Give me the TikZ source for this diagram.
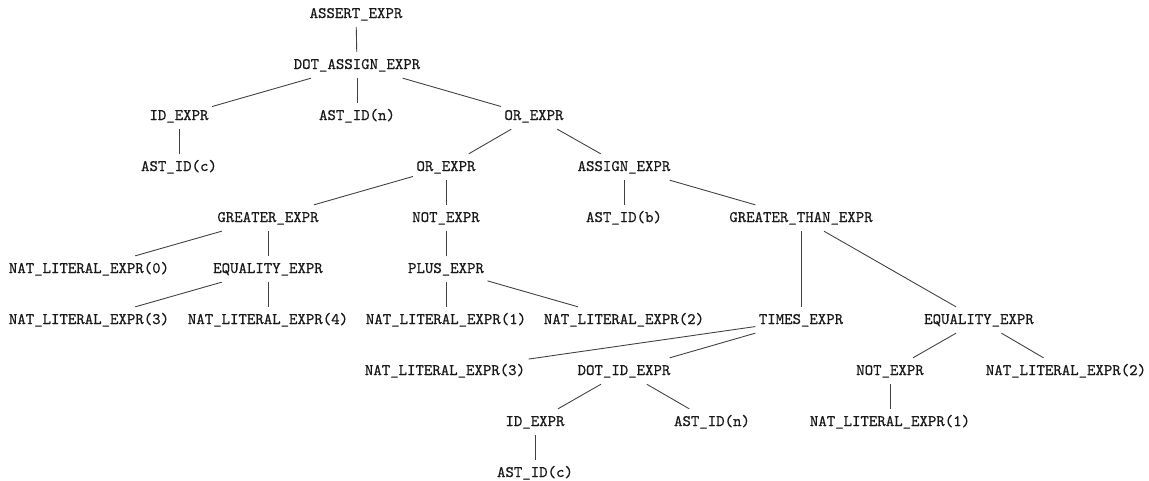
\documentclass[tikz,border=0pt]{standalone}
\usepackage{fontspec}
\setmonofont[FakeBold=0.6]{Latin Modern Mono}
\begin{document}
\begin{tikzpicture}[x=0.6228pt,y=-0.6228pt,
  tn/.style={font=\ttfamily\fontsize{10pt}{12pt}\selectfont, text=black!90, inner xsep=2pt, inner ysep=4pt, text height=6.5pt, text depth=1.5pt},
  ed/.style={draw=black!75, line width=0.55pt}]
\useasboundingbox (0,0) rectangle (1149,481);
\node[tn] (a) at (356,14) {ASSERT\_EXPR};
\node[tn] (b) at (357,65) {DOT\_ASSIGN\_EXPR};
\node[tn] (c) at (179,116) {ID\_EXPR};
\node[tn] (d) at (357,116) {AST\_ID(n)};
\node[tn] (e) at (534,116) {OR\_EXPR};
\node[tn] (f) at (179,167) {AST\_ID(c)};
\node[tn] (g) at (446,167) {OR\_EXPR};
\node[tn] (h) at (624,167) {ASSIGN\_EXPR};
\node[tn] (i) at (268,218) {GREATER\_EXPR};
\node[tn] (j) at (446,218) {NOT\_EXPR};
\node[tn] (k) at (624,218) {AST\_ID(b)};
\node[tn] (l) at (801,218) {GREATER\_THAN\_EXPR};
\node[tn] (m) at (89,269) {NAT\_LITERAL\_EXPR(0)};
\node[tn] (n) at (268,269) {EQUALITY\_EXPR};
\node[tn] (o) at (446,269) {PLUS\_EXPR};
\node[tn] (p) at (89,320) {NAT\_LITERAL\_EXPR(3)};
\node[tn] (q) at (268,320) {NAT\_LITERAL\_EXPR(4)};
\node[tn] (r) at (446,320) {NAT\_LITERAL\_EXPR(1)};
\node[tn] (s) at (624,320) {NAT\_LITERAL\_EXPR(2)};
\node[tn] (t) at (801,320) {TIMES\_EXPR};
\node[tn] (u) at (979,320) {EQUALITY\_EXPR};
\node[tn] (v) at (445,371) {NAT\_LITERAL\_EXPR(3)};
\node[tn] (w) at (624,371) {DOT\_ID\_EXPR};
\node[tn] (x) at (890,371) {NOT\_EXPR};
\node[tn] (y) at (1066,371) {NAT\_LITERAL\_EXPR(2)};
\node[tn] (z) at (535,422) {ID\_EXPR};
\node[tn] (aa) at (712,422) {AST\_ID(n)};
\node[tn] (bb) at (890,422) {NAT\_LITERAL\_EXPR(1)};
\node[tn] (cc) at (535,473) {AST\_ID(c)};
\foreach \p/\c in {a/b,b/c,b/d,b/e,c/f,e/g,e/h,g/i,g/j,h/k,h/l,i/m,i/n,j/o,n/p,n/q,o/r,o/s,l/t,l/u,t/v,t/w,u/x,u/y,w/z,w/aa,x/bb,z/cc}
  \draw[ed] (\p) -- (\c);
\end{tikzpicture}
\end{document}
